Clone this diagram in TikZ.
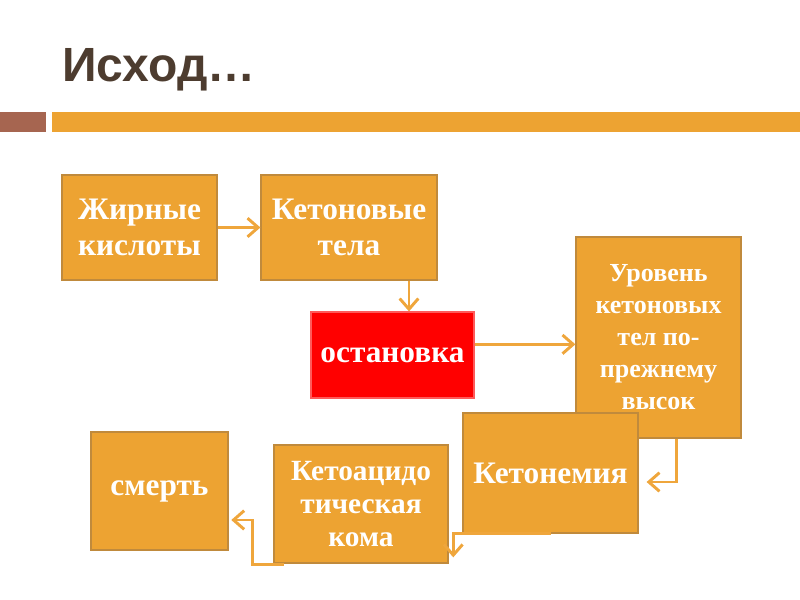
\documentclass[tikz,border=0pt]{standalone}
\usepackage{fontspec}
\setmainfont{Liberation Serif}
\newfontfamily\titlefont{Liberation Sans}
\usetikzlibrary{arrows.meta}
\definecolor{boxfill}{RGB}{237,163,50}
\definecolor{boxline}{RGB}{192,138,60}
\definecolor{arrowcol}{RGB}{239,166,60}
\definecolor{titlecol}{RGB}{77,60,47}
\definecolor{barbrown}{RGB}{166,101,80}
\definecolor{stopline}{RGB}{255,90,90}

\begin{document}
\begin{tikzpicture}[x=0.75pt, y=-0.75pt,
  box/.style={draw=boxline, line width=0.9pt, fill=boxfill, text=white, align=center, inner sep=2pt,
    font=\fontsize{23.5}{27.5}\selectfont\bfseries},
  conn/.style={draw=arrowcol, line width=2.2pt, -{Straight Barb[length=8pt,width=14pt]}}]
\useasboundingbox (0,0) rectangle (800,600);

% Title
\node[anchor=base west, inner sep=0pt, text=titlecol,
  font=\titlefont\fontsize{36}{40}\selectfont\bfseries] (title) at (62,81) {Исход…};
\fill[barbrown] (0,112) rectangle (46,132);
\fill[boxfill] (52,112) rectangle (800,132);

% Nodes
\node[box, minimum width=116.25pt, minimum height=78.75pt] (fat) at (139.5,227.5) {Жирные\\кислоты};
\node[box, minimum width=132pt, minimum height=78.75pt] (keton) at (349,227.5) {Кетоновые\\тела};
\node[box, fill=red, draw=stopline, minimum width=122.25pt, minimum height=64.5pt] (stop) at (392.5,355) {остановка};
\node[box, minimum width=123.75pt, minimum height=150.75pt, font=\fontsize{19.5}{24}\selectfont\bfseries] (level) at (658.5,337.5) {Уровень\\кетоновых\\тел по-\\прежнему\\высок};
\node[box, minimum width=131.25pt, minimum height=90pt] (nemia) at (550.5,473) {Кетонемия};
\node[box, minimum width=130.5pt, minimum height=88.5pt, font=\fontsize{22}{25}\selectfont\bfseries] (coma) at (361,504) {Кетоацидо\\тическая\\кома};
\node[box, minimum width=102.75pt, minimum height=88.5pt] (death) at (159.5,491) {смерть};

% Arrows
\draw[conn] (fat) -- (keton);
\draw[conn] ([xshift=45pt]keton.south) -- ([xshift=45pt]keton.south |- stop.north);
\draw[conn] ([yshift=8pt]stop.east) -- ([yshift=8pt]level.west |- stop.east);
\draw[conn] ([xshift=13.5pt]level.south) |- ([xshift=6pt,yshift=-6.75pt]nemia.east);
\draw[conn] (nemia.south) -| ([xshift=3.5pt,yshift=-40pt]coma.east);
\draw[conn] ([xshift=8pt,yshift=-0.8pt]coma.south west) -- ++(-32,0) |- ([xshift=2pt,yshift=-21.75pt]death.east);

\end{tikzpicture}
\end{document}
